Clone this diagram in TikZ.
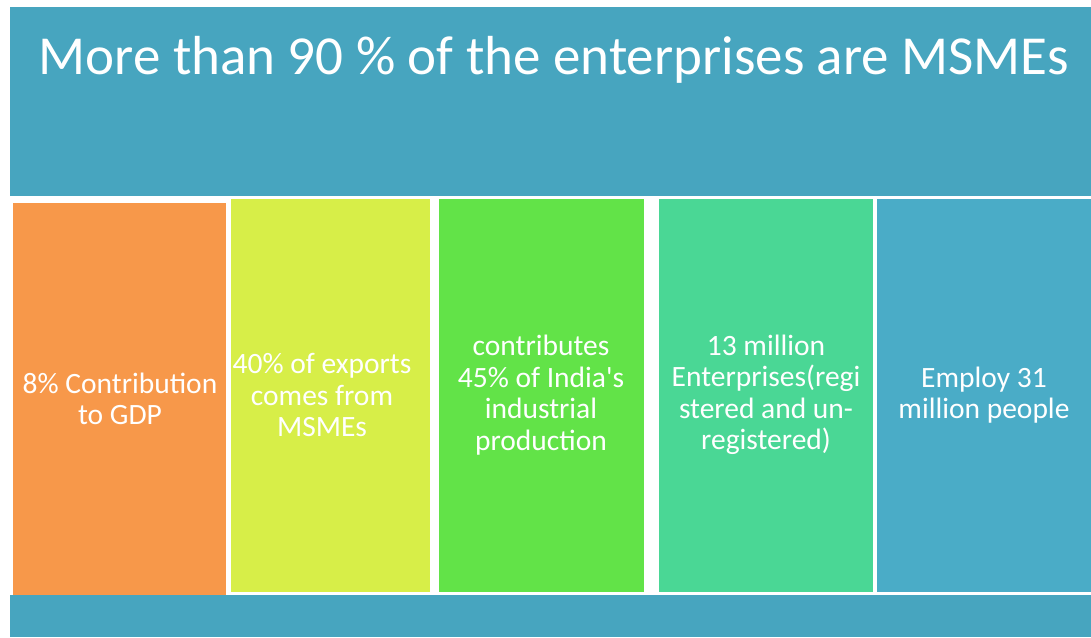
\documentclass[tikz,border=0pt]{standalone}
\usepackage{fontspec}
\setmainfont{Carlito}
\definecolor{bannerTeal}{HTML}{47A5BF}
\definecolor{barOrange}{HTML}{F7984A}
\definecolor{barYellow}{HTML}{D7EE48}
\definecolor{barGreen}{HTML}{62E348}
\definecolor{barMint}{HTML}{4AD795}
\definecolor{barBlue}{HTML}{4AACC7}
\begin{document}
\begin{tikzpicture}
[x=1pt,y=-1pt,%
  boxDecorate/.style={shape=rectangle,inner sep=0pt,outer sep=0pt},
  textDecorate/.style={align=center,text=white,inner sep=0pt,
    font=\fontsize{29.5}{31.5}\selectfont},
  titleDecorate/.style={text=white,inner sep=0pt,anchor=base,
    font=\fontsize{55}{60}\selectfont}]
\useasboundingbox (0,0) rectangle (1091,637);
%% banner and bottom strip
\node (banner) at (550.5,101.5) [boxDecorate,fill=bannerTeal,
  minimum width=1081pt,minimum height=189pt] {};
\node (strip) at (550.5,616) [boxDecorate,fill=bannerTeal,
  minimum width=1081pt,minimum height=42pt] {};
\node (title) at (554,74) [titleDecorate]
  {More than 90 \% of the enterprises are MSMEs};
%% columns
\foreach \name/\cx/\cy/\w/\h/\col in {
  gdp/119.5/399/213/392/barOrange,
  exports/330.5/395.5/199/393/barYellow,
  industry/541.5/395.5/205/393/barGreen,
  enterprises/766/395.5/214/393/barMint,
  employ/984/395.5/214/393/barBlue}
{
  \node (\name) at (\cx,\cy) [boxDecorate,fill=\col,
    minimum width=\w pt,minimum height=\h pt] {};
}
%% column texts
\foreach \name/\tx/\ty/\txt in {
  gdp/120/399/{8\% Contribution\\to GDP},
  exports/322/395/{40\% of exports\\comes from\\MSMEs},
  industry/541/395/{contributes\\45\% of India\textquotesingle s\\industrial\\production},
  enterprises/766/395/{13 million\\Enterprises(regi\\stered and un-\\registered)},
  employ/984/395/{Employ 31\\million people}}
{
  \node (\name-text) at (\tx,\ty) [textDecorate] {\txt};
}
\end{tikzpicture}
\end{document}
